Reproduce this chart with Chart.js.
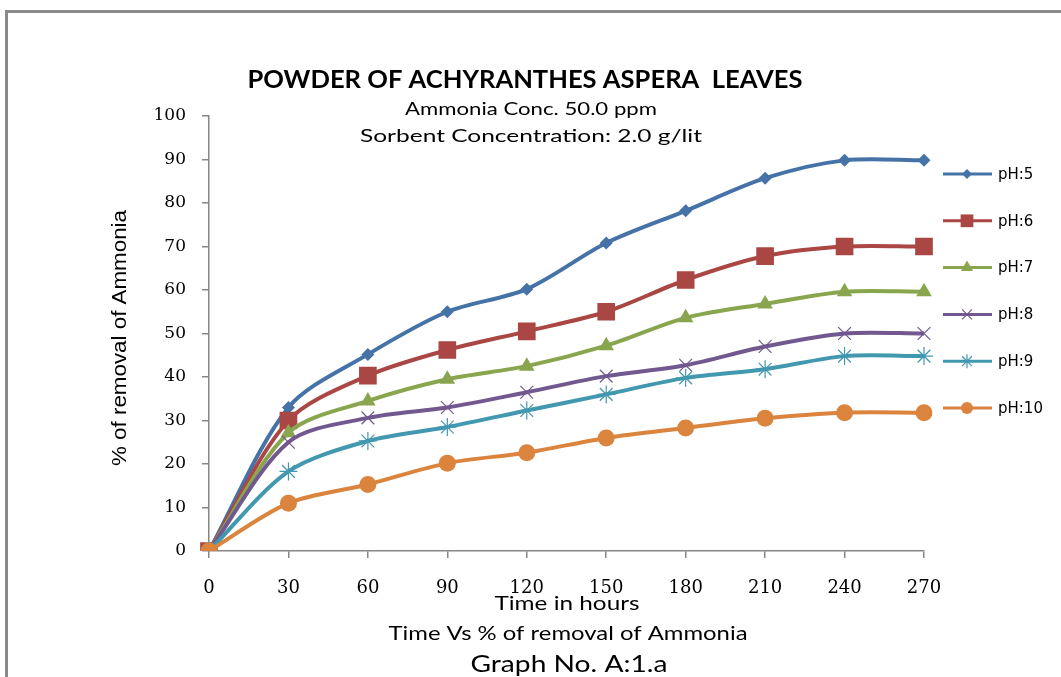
<!DOCTYPE html>
<html>
<head>
<meta charset="utf-8">
<script src="https://cdn.jsdelivr.net/npm/chart.js@4.4.1/dist/chart.umd.min.js"></script>
<style>
    html, body { margin: 0; padding: 0; background: #fff; overflow: hidden; }
    #wrap { position: relative; width: 1061px; height: 677px; }
    #frame { position: absolute; left: 5px; top: 10px; width: 1100px; height: 700px;
             border-top: 3px solid #898989; border-left: 3px solid #898989; }
    canvas { position: absolute; left: 0; top: 0; }
</style>
</head>
<body>
<div id="wrap">
    <div id="frame"></div>
    <canvas id="myChart" width="1061" height="677"></canvas>
</div>
<script>
// time axis (as printed on the chart)
const timeLabels = ['0', '30', '60', '90', '120', '150', '180', '210', '240', '270'];

// % removal of ammonia for each pH
const ph5 = [0, 33, 45.2, 55, 60.2, 70.8, 78.2, 85.7, 89.8, 89.8];
const ph6 = [0, 30, 40.3, 46.2, 50.5, 55, 62.3, 67.8, 70, 70];
const ph7 = [0, 27.2, 34.5, 39.5, 42.5, 47.2, 53.6, 56.8, 59.6, 59.6];
const ph8 = [0, 25, 30.6, 33, 36.5, 40.2, 42.7, 47, 50, 50];
const ph9 = [0, 18.3, 25.3, 28.5, 32.3, 36, 39.8, 41.8, 44.8, 44.8];
const ph10 = [0, 11, 15.3, 20.2, 22.6, 26, 28.3, 30.5, 31.8, 31.8];

const seriesNames = ['pH:5', 'pH:6', 'pH:7', 'pH:8', 'pH:9', 'pH:10'];
const seriesColors = ['#4572A7', '#AA4643', '#89A54E', '#71588F', '#4198AF', '#DB843D'];

// 그래프 제목, 축 제목, 범례를 캔버스에 직접 그림
function stretchText(ctx, text, cx, cy, font, width) {
    ctx.font = font;
    const w = ctx.measureText(text).width;
    ctx.save();
    ctx.translate(cx, cy);
    ctx.scale(width / w, 1);
    ctx.textAlign = 'center';
    ctx.textBaseline = 'middle';
    ctx.fillText(text, 0, 0);
    ctx.restore();
}

const textPlugin = {
    id: 'textPlugin',
    afterDraw(chart) {
        const ctx = chart.ctx;
        ctx.save();
        ctx.fillStyle = '#000';
        stretchText(ctx, 'POWDER OF ACHYRANTHES ASPERA  LEAVES', 525, 80, 'bold 25px Lato, "Liberation Sans"', 555);
        stretchText(ctx, 'Ammonia Conc. 50.0 ppm', 531, 109, '18px Lato, "Liberation Sans"', 252);
        stretchText(ctx, 'Sorbent Concentration: 2.0 g/lit', 531, 136, '18px Lato, "Liberation Sans"', 342);
        stretchText(ctx, 'Time in hours', 567, 604, '20px Lato, "Liberation Sans"', 145);
        stretchText(ctx, 'Time Vs % of removal of Ammonia', 568, 634, '20px Lato, "Liberation Sans"', 359);
        stretchText(ctx, 'Graph No. A:1.a', 569, 664, '24px Lato, "Liberation Sans"', 197);

        // y축 제목 (회전)
        ctx.save();
        ctx.translate(120, 338);
        ctx.rotate(-Math.PI / 2);
        stretchText(ctx, '% of removal of Ammonia', 0, 0, '21px "Liberation Sans"', 256);
        ctx.restore();

        // 범례
        chart.data.datasets.forEach((ds, i) => {
            const y = 174 + i * 46.8;
            ctx.strokeStyle = ds.borderColor;
            ctx.lineWidth = 3;
            ctx.beginPath();
            ctx.moveTo(943, y);
            ctx.lineTo(992, y);
            ctx.stroke();
            ctx.fillStyle = ds.pointBackgroundColor;
            ctx.strokeStyle = ds.pointBorderColor;
            ctx.lineWidth = ds.pointBorderWidth;
            Chart.helpers.drawPoint(ctx, {
                pointStyle: ds.pointStyle,
                radius: ds.legendRadius,
                borderWidth: ds.pointBorderWidth,
                rotation: 0
            }, 967, y);
            ctx.fillStyle = '#000';
            ctx.font = '15px "DejaVu Sans"';
            ctx.textAlign = 'left';
            ctx.textBaseline = 'middle';
            ctx.fillText(ds.label, 998, y + 1);
        });
        ctx.restore();
    }
};

const seriesData = [ph5, ph6, ph7, ph8, ph9, ph10];
const pointStyles = ['rectRot', 'rect', 'triangle', 'crossRot', 'star', 'circle'];
const pointRadii = [6.5, 12.5, 9, 9, 9, 8.5];
const legendRadii = [5, 9, 7, 7, 7, 6];

const datasets = seriesData.map((vals, i) => {
    const hollow = pointStyles[i] === 'crossRot' || pointStyles[i] === 'star';
    return {
        label: seriesNames[i],
        data: vals,
        borderColor: seriesColors[i],
        backgroundColor: seriesColors[i],
        borderWidth: 4,
        tension: 0.3,
        pointStyle: pointStyles[i],
        pointRadius: pointRadii[i],
        legendRadius: legendRadii[i],
        pointBackgroundColor: seriesColors[i],
        pointBorderColor: seriesColors[i],
        pointBorderWidth: hollow ? 1.2 : 0,
        order: 6 - i,
        fill: false
    };
});

new Chart(document.getElementById('myChart').getContext('2d'), {
    type: 'line',
    data: { labels: timeLabels, datasets: datasets },
    options: {
        responsive: false,
        devicePixelRatio: 1,
        animation: false,
        layout: { padding: { left: 0, top: 116, right: 137, bottom: 66 } },
        plugins: {
            legend: { display: false },
            title: { display: false },
            tooltip: { enabled: false }
        },
        scales: {
            x: {
                type: 'category',
                offset: false,
                afterFit: (scale) => { scale.height = 60; },
                border: { color: '#868686', width: 1.5 },
                grid: { drawOnChartArea: false, drawTicks: true, tickLength: 7, color: '#868686', lineWidth: 1.5 },
                ticks: { color: '#000', padding: 20, maxRotation: 0, autoSkip: false,
                         font: { family: '"DejaVu Serif"', size: 18 } }
            },
            y: {
                min: 0,
                max: 100,
                afterFit: (scale) => { scale.width = 209; },
                border: { color: '#868686', width: 1.5 },
                grid: { drawOnChartArea: false, drawTicks: true, tickLength: 7, color: '#868686', lineWidth: 1.5 },
                ticks: { stepSize: 10, color: '#000', padding: 16,
                         font: { family: '"DejaVu Serif"', size: 17 } }
            }
        }
    },
    plugins: [textPlugin]
});
</script>
</body>
</html>
